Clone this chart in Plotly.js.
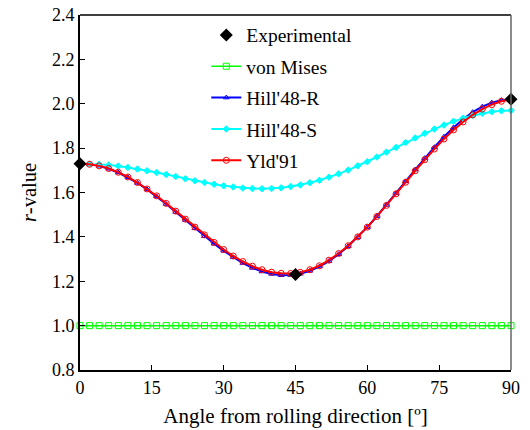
<!DOCTYPE html>
<html>
<head>
<meta charset="utf-8">
<script src="https://cdn.plot.ly/plotly-3.0.1.min.js"></script>
<style>
  html, body { margin: 0; padding: 0; background: #fff; }
  #chart { width: 530px; height: 430px; }
</style>
</head>
<body>
<div id="chart"></div>
<script>
// Angle from rolling direction (deg), every 2 degrees for the model curves
const angles = [0, 2, 4, 6, 8, 10, 12, 14, 16, 18, 20, 22, 24, 26, 28, 30, 32, 34, 36, 38, 40, 42, 44,
  46, 48, 50, 52, 54, 56, 58, 60, 62, 64, 66, 68, 70, 72, 74, 76, 78, 80, 82, 84, 86, 88, 90];

// Measured r-values
const expAngles = [0, 45, 90];
const expR = [1.73, 1.23, 2.02];

// von Mises (isotropic)
const vonMises = [1.0, 1.0, 1.0, 1.0, 1.0, 1.0, 1.0, 1.0, 1.0, 1.0, 1.0, 1.0, 1.0, 1.0, 1.0, 1.0,
  1.0, 1.0, 1.0, 1.0, 1.0, 1.0, 1.0, 1.0, 1.0, 1.0, 1.0, 1.0, 1.0, 1.0, 1.0, 1.0,
  1.0, 1.0, 1.0, 1.0, 1.0, 1.0, 1.0, 1.0, 1.0, 1.0, 1.0, 1.0, 1.0, 1.0];

// Hill'48 calibrated with r-values
const hill48R = [1.730, 1.727, 1.720, 1.707, 1.690, 1.668, 1.643, 1.614, 1.582, 1.548, 1.512, 1.476,
  1.439, 1.403, 1.369, 1.337, 1.308, 1.282, 1.260, 1.244, 1.233, 1.227, 1.228, 1.234, 1.247, 1.266,
  1.291, 1.322, 1.358, 1.399, 1.444, 1.493, 1.544, 1.596, 1.650, 1.703, 1.755, 1.804, 1.851, 1.893,
  1.930, 1.962, 1.987, 2.005, 2.016, 2.020];

// Hill'48 calibrated with yield stresses
const hill48S = [1.730, 1.729, 1.727, 1.724, 1.719, 1.713, 1.706, 1.698, 1.690, 1.681, 1.672, 1.662,
  1.653, 1.645, 1.637, 1.630, 1.625, 1.620, 1.618, 1.617, 1.618, 1.621, 1.627, 1.634, 1.644, 1.655,
  1.669, 1.684, 1.701, 1.720, 1.739, 1.760, 1.782, 1.803, 1.825, 1.846, 1.867, 1.886, 1.904, 1.921,
  1.935, 1.947, 1.957, 1.964, 1.968, 1.970];

// Yld'91
const yld91 = [1.730, 1.727, 1.720, 1.708, 1.691, 1.670, 1.645, 1.616, 1.585, 1.551, 1.516, 1.480,
  1.444, 1.409, 1.375, 1.343, 1.314, 1.289, 1.268, 1.252, 1.241, 1.236, 1.235, 1.240, 1.252, 1.270,
  1.295, 1.325, 1.360, 1.400, 1.444, 1.492, 1.542, 1.594, 1.646, 1.698, 1.748, 1.796, 1.841, 1.882,
  1.918, 1.950, 1.976, 1.996, 2.011, 2.020];

const FONT = 'Liberation Serif, Times New Roman, serif';

function modelTrace(name, y, color, symbol, size, rank, lw) {
  return {
    x: angles, y: y, name: name, type: 'scatter', mode: 'lines+markers',
    line: { color: color, width: lw },
    marker: { symbol: symbol, size: size, color: color, line: { color: color, width: 1 } },
    cliponaxis: false, legendrank: rank, legendgroup: name
  };
}

const traces = [
  modelTrace('von Mises', vonMises, '#00ff00', 'square-open', 6, 2, 1.5),
  modelTrace("Hill'48-R", hill48R, '#0000ff', 'triangle-up-open', 5, 3, 2),
  modelTrace("Hill'48-S", hill48S, '#00ffff', 'diamond', 5, 4, 2),
  modelTrace("Yld'91", yld91, '#ff0000', 'circle-open', 6, 5, 2),
  {
    x: expAngles, y: expR, name: 'Experimental', type: 'scatter', mode: 'markers',
    marker: { symbol: 'diamond', size: 10, color: '#000000' },
    cliponaxis: false, legendrank: 1, legendgroup: 'Experimental'
  }
];

const layout = {
  width: 530, height: 430,
  margin: { l: 80, r: 19, t: 15, b: 60 },
  paper_bgcolor: '#ffffff', plot_bgcolor: '#ffffff',
  font: { family: FONT, size: 18, color: '#000' },
  showlegend: true,
  legend: {
    x: 0.293, y: 0.998, xanchor: 'left', yanchor: 'top',
    bgcolor: 'rgba(0,0,0,0)', borderwidth: 0,
    font: { family: FONT, size: 19.5, color: '#000' },
    tracegroupgap: 3, itemwidth: 30
  },
  xaxis: {
    range: [0, 90], tickvals: [0, 15, 30, 45, 60, 75, 90],
    ticks: 'inside', ticklen: 5, tickwidth: 1, tickcolor: '#000',
    showline: true, linecolor: '#000', linewidth: 2, mirror: false,
    showgrid: false, zeroline: false,
    tickfont: { family: FONT, size: 18 },
    title: { text: 'Angle from rolling direction [º]', font: { family: FONT, size: 21 }, standoff: 12 }
  },
  yaxis: {
    range: [0.8, 2.4], tickvals: [0.8, 1.0, 1.2, 1.4, 1.6, 1.8, 2.0, 2.2, 2.4],
    ticktext: ['0.8', '1.0', '1.2', '1.4', '1.6', '1.8', '2.0', '2.2', '2.4'],
    ticks: 'inside', ticklen: 5, tickwidth: 1, tickcolor: '#000',
    showline: true, linecolor: '#000', linewidth: 2, mirror: false,
    showgrid: false, zeroline: false,
    tickfont: { family: FONT, size: 18 },
    title: { text: '<i>r</i>-value', font: { family: FONT, size: 20.5 }, standoff: 10 }
  },
  shapes: [
    { type: 'line', xref: 'paper', yref: 'paper', x0: 0, x1: 1, y0: 1, y1: 1,
      line: { color: '#000', width: 1.5 } },
    { type: 'line', xref: 'paper', yref: 'paper', x0: 1, x1: 1, y0: 0, y1: 1,
      line: { color: '#666', width: 1.5 } }
  ]
};

Plotly.newPlot('chart', traces, layout, { staticPlot: true, displayModeBar: false });
</script>
</body>
</html>
